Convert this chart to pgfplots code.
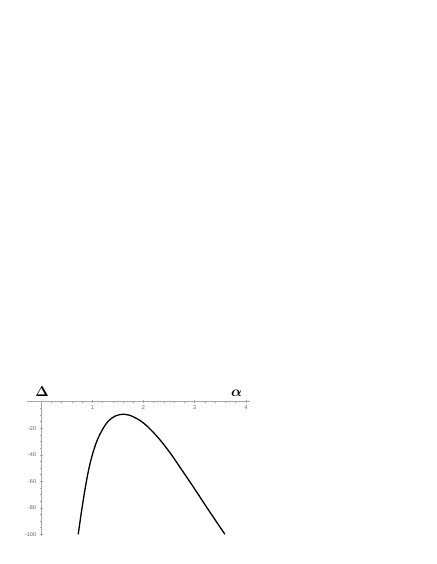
\documentclass[border=0pt]{standalone}
\usepackage{pgfplots}
\pgfplotsset{compat=1.18}
\usepackage{fontspec}
\usepackage{amsmath,bm}
\newfontfamily\tickfont{Liberation Sans}
\definecolor{axgray}{HTML}{A8A8A8}
\definecolor{labgray}{HTML}{606060}

\begin{document}
\begin{tikzpicture}[x=1pt,y=1pt]
\path[use as bounding box] (0,0) rectangle (436,564);
\begin{axis}[
    at={(41.1pt,162.2pt)}, anchor=origin,
    x=51.2pt, y=1.325pt,
    axis lines=middle,
    axis line style={-, draw=axgray, line width=0.6pt},
    xmin=-0.28, xmax=4.08,
    ymin=-101.3, ymax=0,
    xtick={1,2,3,4}, xticklabels={1,2,3,4},
    ytick={-20,-40,-60,-80,-100}, yticklabels={-20,-40,-60,-80,-100},
    minor xtick={0.2,0.4,0.6,0.8,1.2,1.4,1.6,1.8,2.2,2.4,2.6,2.8,3.2,3.4,3.6,3.8},
    minor ytick={-5,-10,-15,-25,-30,-35,-45,-50,-55,-65,-70,-75,-85,-90,-95},
    major tick length=3pt, minor tick length=1.6pt,
    tick align=center,
    tick style={draw=axgray, line width=0.5pt},
    tick label style={font=\tickfont\fontsize{5.5}{6}\selectfont, text=labgray},
    xticklabel style={yshift=1pt},
    clip=false,
]
% Delta versus alpha
\addplot[black, line width=1.3pt, smooth, tension=0.6] coordinates {
    (0.725,-100) (0.79,-82.5) (0.86,-65.5) (0.936,-50) (1.02,-37.5)
    (1.118,-27) (1.248,-17.8) (1.346,-13.4) (1.45,-10.7) (1.53,-9.7)
    (1.605,-9.4) (1.7,-9.9) (1.8,-11.3) (2.0,-16.0) (2.25,-25.5)
    (2.5,-37.5) (2.75,-51.5) (3.0,-65.8) (3.25,-80.5) (3.59,-100)
};
\node[font=\fontsize{14}{14}\selectfont] at (axis cs:0.018,7.4) {$\bm{\Delta}$};
\node[font=\fontsize{15}{15}\selectfont] at (axis cs:3.82,6.3) {$\bm{\alpha}$};
\end{axis}
\end{tikzpicture}
\end{document}
